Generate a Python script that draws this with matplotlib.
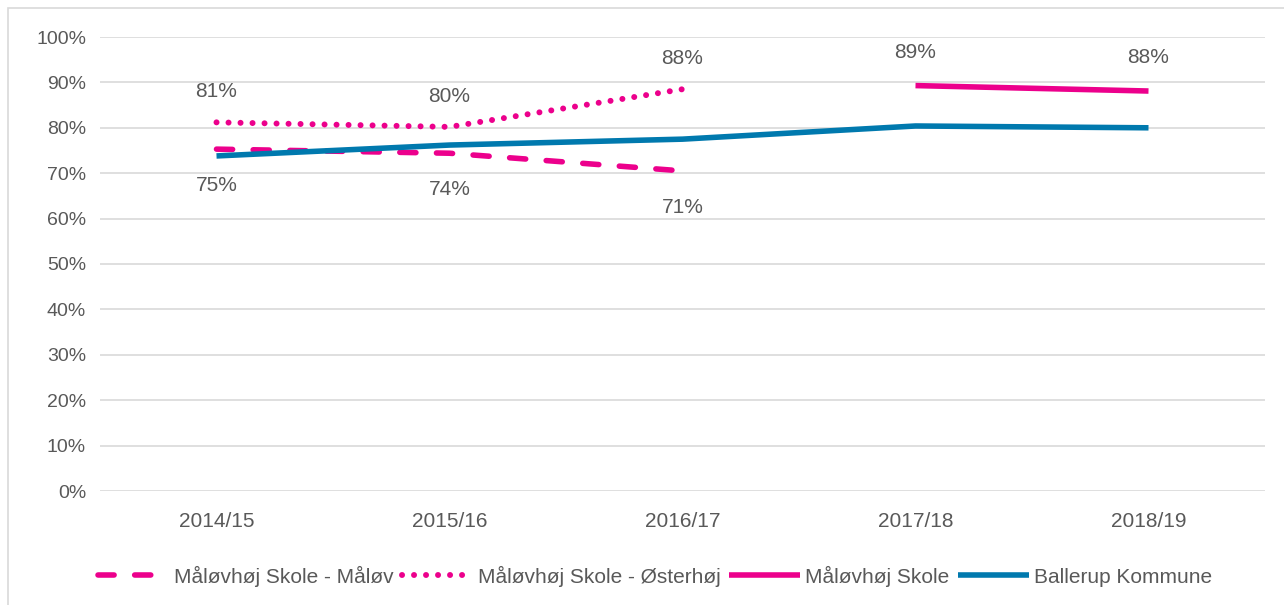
import matplotlib.pyplot as plt
from matplotlib.patches import Rectangle

plt.rcParams['font.family'] = ['Liberation Sans', 'DejaVu Sans']

# Data
years = ['2014/15', '2015/16', '2016/17', '2017/18', '2018/19']
maalov = [75.3, 74.4, 70.5, None, None]
osterhoj = [81.2, 80.2, 88.5, None, None]
maalovhoj = [None, None, None, 89.3, 88.1]
ballerup = [73.8, 76.2, 77.5, 80.4, 80.0]

maalov_labels = ['75%', '74%', '71%']
osterhoj_labels = ['81%', '80%', '88%']
maalovhoj_labels = ['89%', '88%']

pink = '#EC008C'
blue = '#0079AE'
grey_txt = '#595959'

fig = plt.figure(figsize=(12.84, 6.05), dpi=100)
ax = fig.add_axes([100 / 1284, 1 - 491 / 605, 1165 / 1284, 454 / 605])

# ramme rundt om figuren
fig.add_artist(Rectangle((8 / 1284, -0.01), 1.2, 1 - 8 / 605 + 0.01, transform=fig.transFigure,
                         fill=False, edgecolor='#d9d9d9', lw=1.2))

x = list(range(len(years)))


def seg(vals):
    xs = [i for i, v in enumerate(vals) if v is not None]
    return xs, [vals[i] for i in xs]


xm, ym = seg(maalov)
xo, yo = seg(osterhoj)
xs, ys = seg(maalovhoj)

ax.plot(xm, ym, color=pink, lw=4, dashes=(2.9, 3.7), dash_capstyle='round', label='Måløvhøj Skole - Måløv')
ax.plot(xo, yo, color=pink, lw=4.3, dashes=(0.01, 2.0), dash_capstyle='round', label='Måløvhøj Skole - Østerhøj')
ax.plot(xs, ys, color=pink, lw=4, solid_capstyle='butt', label='Måløvhøj Skole')
ax.plot(x, ballerup, color=blue, lw=4, solid_capstyle='butt', label='Ballerup Kommune')

# dataetiketter
for i, t in enumerate(maalov_labels):
    ax.annotate(t, (xm[i], ym[i]), xytext=(0, -26), textcoords='offset points',
                ha='center', va='center', fontsize=15, color=grey_txt)
for i, t in enumerate(osterhoj_labels):
    ax.annotate(t, (xo[i], yo[i]), xytext=(0, 22), textcoords='offset points',
                ha='center', va='center', fontsize=15, color=grey_txt)
for i, t in enumerate(maalovhoj_labels):
    ax.annotate(t, (xs[i], ys[i]), xytext=(0, 24), textcoords='offset points',
                ha='center', va='center', fontsize=15, color=grey_txt)

ax.set_xlim(-0.5, len(years) - 0.5)
ax.set_ylim(0, 100)
ax.set_yticks(range(0, 101, 10))
ax.set_yticklabels([f'{v}%' for v in range(0, 101, 10)])
ax.set_xticks(x)
ax.set_xticklabels(years)
ax.tick_params(axis='both', length=0, labelcolor=grey_txt)
ax.tick_params(axis='x', pad=15, labelsize=15)
ax.tick_params(axis='y', pad=10, labelsize=14)
ax.grid(axis='y', color='#d9d9d9', lw=1.2)
ax.set_axisbelow(True)
for s in ax.spines.values():
    s.set_visible(False)

leg = fig.legend(loc='center', bbox_to_anchor=(655 / 1284, 1 - 576 / 605), ncol=4, frameon=False,
                 fontsize=15, handlelength=3.4, handletextpad=0.25, columnspacing=0.4)
for t in leg.get_texts():
    t.set_color(grey_txt)

plt.savefig('out.png', dpi=100)
